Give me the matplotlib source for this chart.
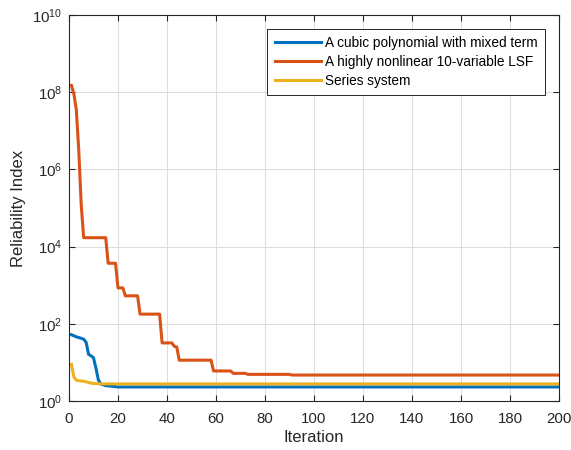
import matplotlib
matplotlib.use('Agg')
import matplotlib.pyplot as plt
from matplotlib.ticker import FixedLocator, NullLocator, LogFormatterSciNotation

plt.rcParams['font.family'] = ['Liberation Sans', 'DejaVu Sans']
plt.rcParams['mathtext.fontset'] = 'custom'
plt.rcParams['mathtext.rm'] = 'Liberation Sans'

# vertices (iteration, reliability index)
cubic_iter = [1, 3, 4, 6, 7, 8, 9, 10, 11, 12, 13, 15, 18, 20, 200]
cubic_val = [52, 46, 44, 40, 33, 16.2, 14.8, 13.2, 7.1, 3.5, 2.75, 2.5, 2.4, 2.31, 2.31]

lsf_iter = [1, 2, 3, 4, 5, 6, 15, 16, 19, 20, 22, 23, 28, 29, 37, 38, 42, 43,
            44, 45, 58, 59, 66, 67, 72, 73, 90, 91, 200]
lsf_val = [1.5e8, 9e7, 3.5e7, 3e6, 1.2e5, 1.7e4, 1.7e4, 3.7e3, 3.7e3, 850, 850, 530,
           530, 178, 178, 32, 32, 26, 25, 11.4, 11.4, 6.0, 6.0, 5.2, 5.2, 4.9, 4.9,
           4.7, 4.7]

series_iter = [1, 2, 3, 5, 7, 9, 11, 13, 200]
series_val = [8.9, 4.2, 3.45, 3.3, 3.15, 2.9, 2.82, 2.77, 2.77]

labels = ['A cubic polynomial with mixed term',
          'A highly nonlinear 10-variable LSF',
          'Series system']
colors = ['#0072BD', '#D95319', '#EDB120']
x_ticks = [0, 20, 40, 60, 80, 100, 120, 140, 160, 180, 200]
y_ticks = [1e0, 1e2, 1e4, 1e6, 1e8, 1e10]

fig = plt.figure(figsize=(5.71, 4.5), dpi=100)
ax = fig.add_axes([0.1208, 0.1089, 0.979 - 0.1208, 0.9667 - 0.1089])

ax.plot(cubic_iter, cubic_val, color=colors[0], lw=2.2, label=labels[0])
ax.plot(lsf_iter, lsf_val, color=colors[1], lw=2.2, label=labels[1])
ax.plot(series_iter, series_val, color=colors[2], lw=2.2, label=labels[2])

ax.set_yscale('log')
ax.set_xlim(0, 200)
ax.set_ylim(1, 1e10)
ax.set_xticks(x_ticks)
ax.yaxis.set_major_locator(FixedLocator(y_ticks))
ax.yaxis.set_major_formatter(LogFormatterSciNotation(base=10))
ax.yaxis.set_minor_locator(NullLocator())

dark = '#262626'
ax.tick_params(direction='in', length=4, width=0.8, top=True, right=True,
               labelsize=10.8, colors=dark, labelcolor=dark)
ax.tick_params(axis='x', pad=8)
ax.tick_params(axis='y', pad=5)
for s in ax.spines.values():
    s.set_color(dark)
    s.set_linewidth(0.8)

ax.grid(True, color='#dcdcdc', lw=0.7)
ax.set_axisbelow(True)

ax.set_xlabel('Iteration', fontsize=12, color=dark, labelpad=3)
ax.set_ylabel('Reliability Index', fontsize=12, color=dark, labelpad=4)

leg = ax.legend(loc='upper right', fontsize=9.8, frameon=True, fancybox=False,
                edgecolor=dark, framealpha=1, borderaxespad=1.0,
                handlelength=3.4, labelspacing=0.36, borderpad=0.55,
                handletextpad=0.3)
leg.get_frame().set_linewidth(0.7)

plt.savefig('out.png', dpi=100)
